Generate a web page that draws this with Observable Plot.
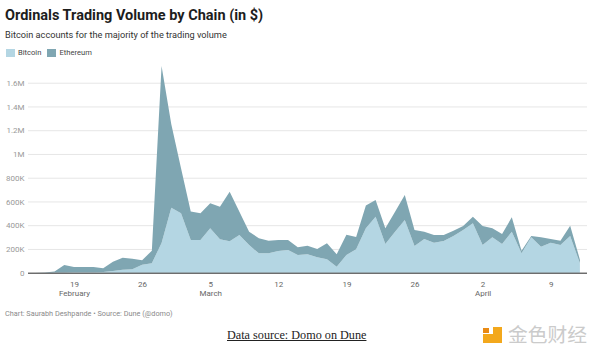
<!DOCTYPE html>
<html>
<head>
<meta charset="utf-8">
<script src="https://cdn.jsdelivr.net/npm/d3@7"></script>
<script src="https://cdn.jsdelivr.net/npm/@observablehq/plot@0.6"></script>
<style>
  html, body { margin: 0; padding: 0; background: #fff; }
  body { width: 600px; height: 355px; position: relative; overflow: hidden; font-family: Roboto, "Noto Sans", sans-serif; }
  .abs { position: absolute; white-space: nowrap; line-height: 1; }
  #title { left: 5px; top: 8.8px; font-size: 14.5px; font-weight: 700; color: #1d1d1d; }
  #subtitle { left: 5px; top: 29.8px; font-size: 9.2px; color: #333; }
  #legend { left: 6px; top: 49px; font-size: 7.6px; color: #444; display: flex; align-items: center; height: 8px; }
  #legend .sw { width: 9px; height: 8px; display: inline-block; margin-right: 3px; }
  #legend .item { display: flex; align-items: center; margin-right: 6px; }
  #chart { position: absolute; left: 0; top: 58px; }
  #caption { left: 5px; top: 309.5px; font-size: 7.3px; color: #8a8a8a; }
  #source { left: 227px; top: 329px; font-family: "Liberation Serif", "DejaVu Serif", serif; font-size: 12.2px; color: #222; text-decoration: underline; }
  #logo { position: absolute; left: 480px; top: 320px; }
</style>
</head>
<body>
<div id="title" class="abs">Ordinals Trading Volume by Chain (in $)</div>
<div id="subtitle" class="abs">Bitcoin accounts for the majority of the trading volume</div>
<div id="legend" class="abs"></div>
<div id="chart"></div>
<div id="caption" class="abs">Chart: Saurabh Deshpande • Source: Dune (@domo)</div>
<div id="source" class="abs">Data source: Domo on Dune</div>
<svg id="logo" width="119" height="34" viewBox="480 320 119 34">
  <rect x="483" y="334" width="19" height="9" fill="#f3a81c"/>
  <rect x="493" y="327" width="9" height="16" fill="#f3a81c"/>
  <rect x="483" y="328" width="6" height="5" fill="#e98a14"/>
  <text x="508" y="342" font-family="Noto Sans CJK SC" font-size="19.5" fill="#cbcbcb" textLength="79" lengthAdjust="spacingAndGlyphs">金色财经</text>
</svg>
<script>
// ---- data (values in thousands of $) ----
const dates = [
  "2023-02-15","2023-02-16","2023-02-17","2023-02-18","2023-02-19","2023-02-20","2023-02-21",
  "2023-02-22","2023-02-23","2023-02-24","2023-02-25","2023-02-26","2023-02-27","2023-02-28",
  "2023-03-01","2023-03-02","2023-03-03","2023-03-04","2023-03-05","2023-03-06","2023-03-07",
  "2023-03-08","2023-03-09","2023-03-10","2023-03-11","2023-03-12","2023-03-13","2023-03-14",
  "2023-03-15","2023-03-16","2023-03-17","2023-03-18","2023-03-19","2023-03-20","2023-03-21",
  "2023-03-22","2023-03-23","2023-03-24","2023-03-25","2023-03-26","2023-03-27","2023-03-28",
  "2023-03-29","2023-03-30","2023-03-31","2023-04-01","2023-04-02","2023-04-03","2023-04-04",
  "2023-04-05","2023-04-06","2023-04-07","2023-04-08","2023-04-09","2023-04-10","2023-04-11",
  "2023-04-12"
];
const bitcoin = [
  0,0,1,2,3,3,4,5,15,25,30,68,80,250,
  547,500,275,275,374,281,265,318,233,163,163,183,191,149,155,130,113,51,149,197,374,472,242,345,444,225,284,253,267,309,360,
  416,233,298,242,345,163,298,219,253,233,309,79
];
const ethereum = [
  0,2,9,63,45,44,43,33,77,100,88,37,105,1490,
  703,380,240,225,210,275,417,196,112,127,107,92,84,65,72,70,134,104,171,103,191,140,132,169,210,135,61,64,50,45,33,
  56,160,76,84,121,22,11,79,31,37,87,31
];
const chains = ["Bitcoin", "Ethereum"];
const colors = ["#b4d6e3", "#7fa6b2"];
const xTicks = ["2023-02-19","2023-02-26","2023-03-05","2023-03-12","2023-03-19","2023-03-26","2023-04-02","2023-04-09"];
const firstOfMonthTicks = ["2023-02-19","2023-03-05","2023-04-02"];
const monthNames = {"1": "February", "2": "March", "3": "April"};
const yTicks = [0, 200000, 400000, 600000, 800000, 1000000, 1200000, 1400000, 1600000];

// ---- table ----
const rows = [];
dates.forEach((d, i) => rows.push({date: new Date(d), chain: "Bitcoin", value: bitcoin[i] * 1000}));
dates.forEach((d, i) => rows.push({date: new Date(d), chain: "Ethereum", value: ethereum[i] * 1000}));

// legend
const leg = document.getElementById("legend");
chains.forEach((c, i) => {
  const it = document.createElement("span");
  it.className = "item";
  it.innerHTML = `<span class="sw" style="background:${colors[i]}"></span>${c}`;
  leg.appendChild(it);
});

const firstSet = new Set(firstOfMonthTicks);
const fmtX = d => {
  const iso = d.toISOString().slice(0, 10);
  const day = d.getUTCDate();
  return firstSet.has(iso) ? `${day}\n${monthNames[d.getUTCMonth()]}` : `${day}`;
};
const fmtY = v => v === 0 ? "0" : v >= 1e6 ? `${v / 1e6}M` : `${v / 1e3}K`;

const chart = Plot.plot({
  width: 600,
  height: 247,
  marginTop: 6.9,
  marginBottom: 32.3,
  marginLeft: 28,
  marginRight: 13,
  style: {fontFamily: "Roboto, sans-serif", background: "transparent", overflow: "visible"},
  x: {type: "utc", domain: [new Date("2023-02-14T06:30:00Z"), new Date("2023-04-12T17:30:00Z")]},
  y: {domain: [0, 1750000]},
  color: {domain: chains, range: colors},
  marks: [
    Plot.gridY({ticks: yTicks, stroke: "#e6e6e6", strokeOpacity: 1, strokeWidth: 1}),
    Plot.areaY(rows, {x: "date", y: "value", fill: "chain", order: chains}),
    Plot.ruleY([0], {stroke: "#333", strokeWidth: 1}),
    Plot.axisY({ticks: yTicks, tickSize: 0, tickPadding: 4, tickFormat: fmtY, fontSize: 8, fill: "#999", label: null}),
    Plot.axisX({ticks: xTicks.map(d => new Date(d)), tickSize: 0, tickPadding: 6.6, tickFormat: fmtX, fontSize: 8, lineHeight: 1.2, fill: "#666", label: null})
  ]
});
document.getElementById("chart").appendChild(chart);
</script>
</body>
</html>
